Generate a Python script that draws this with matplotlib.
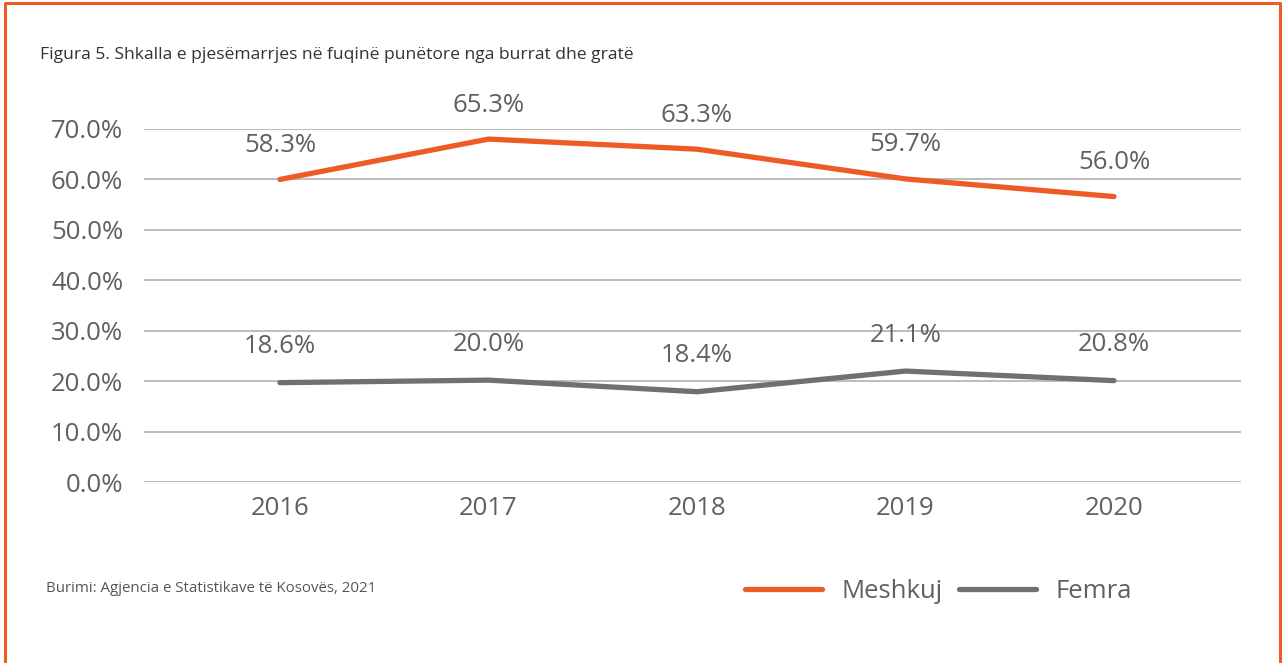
import matplotlib
matplotlib.use("Agg")
import matplotlib.pyplot as plt
from matplotlib.lines import Line2D

# Data
years = ["2016", "2017", "2018", "2019", "2020"]
male_line = [60.0, 68.0, 66.0, 60.1, 56.6]
female_line = [19.7, 20.2, 17.9, 22.0, 20.1]
male_labels = ["58.3%", "65.3%", "63.3%", "59.7%", "56.0%"]
female_labels = ["18.6%", "20.0%", "18.4%", "21.1%", "20.8%"]
y_ticks = [0, 10, 20, 30, 40, 50, 60, 70]

ORANGE = "#EE5B26"
GRAY = "#707070"
TEXT = "#606060"
FS = 18.5

plt.rcParams["font.family"] = ["Open Sans", "DejaVu Sans"]

W, H = 1284, 663
fig = plt.figure(figsize=(W / 100, H / 100), dpi=100)
ax = fig.add_axes([144 / W, 1 - 482 / H, (1241 - 144) / W, (482 - 129) / H])

x = list(range(len(years)))
ax.plot(x, male_line, color=ORANGE, lw=3.8, solid_capstyle="round", solid_joinstyle="round", zorder=3)
ax.plot(x, female_line, color=GRAY, lw=3.8, solid_capstyle="round", solid_joinstyle="round", zorder=3)

for xi, yv, lab in zip(x, male_line, male_labels):
    ax.annotate(lab, (xi, yv), xytext=(0, 34), textcoords="offset pixels",
                ha="center", va="center", fontsize=FS, color=TEXT, annotation_clip=False)
for xi, yv, lab in zip(x, female_line, female_labels):
    ax.annotate(lab, (xi, yv), xytext=(0, 36), textcoords="offset pixels",
                ha="center", va="center", fontsize=FS, color=TEXT, annotation_clip=False)

ax.set_xlim(-0.652, 4.609)
ax.set_ylim(0, 70)
ax.set_yticks(y_ticks)
ax.set_yticklabels([f"{v:.1f}%" for v in y_ticks])
ax.set_xticks(x)
ax.set_xticklabels(years)
ax.tick_params(length=0, labelsize=FS, labelcolor=TEXT)
ax.tick_params(axis="y", pad=15)
ax.tick_params(axis="x", pad=10)
ax.grid(axis="y", color="#B0B0B0", lw=1.2)
ax.set_axisbelow(True)
for s in ax.spines.values():
    s.set_visible(False)

fig.text(40 / W, 1 - 55 / H, "Figura 5. Shkalla e pjesëmarrjes në fuqinë punëtore nga burrat dhe gratë",
         fontsize=12.6, color="#333333", va="center", ha="left")
fig.text(46 / W, 1 - 588 / H, "Burimi: Agjencia e Statistikave të Kosovës, 2021",
         fontsize=10.8, color="#555555", va="center", ha="left")

handles = [Line2D([0], [0], color=ORANGE, lw=3.8, solid_capstyle="round"),
           Line2D([0], [0], color=GRAY, lw=3.8, solid_capstyle="round")]
fig.legend(handles, ["Meshkuj", "Femra"], loc="center left", bbox_to_anchor=(745 / W, 1 - 591 / H),
           ncol=2, frameon=False, fontsize=FS, labelcolor=TEXT, handlelength=3.0,
           handletextpad=0.75, columnspacing=0.65, borderpad=0, borderaxespad=0)

# orange frame, open at the bottom
fig.add_artist(Line2D([5 / W, 5 / W, 1280 / W, 1280 / W], [0, 1 - 3 / H, 1 - 3 / H, 0],
                      transform=fig.transFigure, color=ORANGE, lw=2.2))

fig.savefig("out.png", dpi=100)
